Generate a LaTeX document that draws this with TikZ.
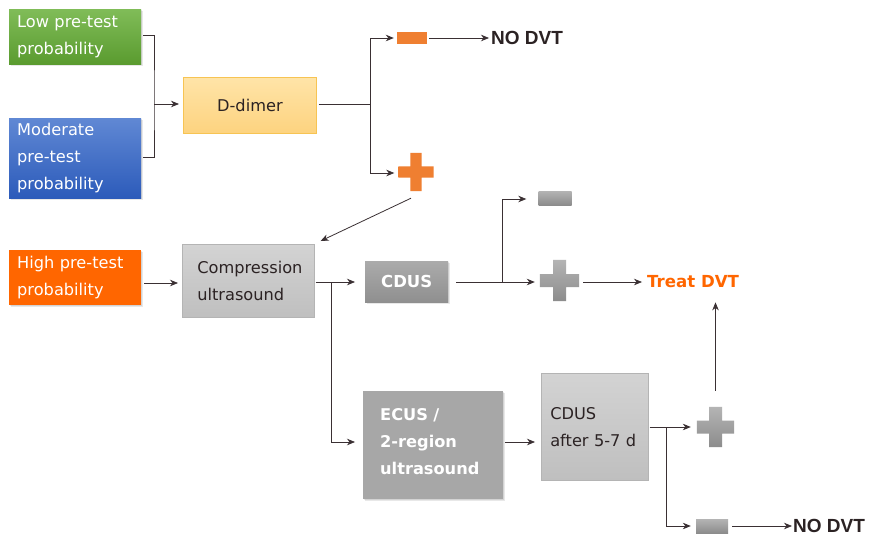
\documentclass[tikz,border=0pt]{standalone}
\usepackage{fontspec}
\setmainfont{DejaVu Sans}
\newfontfamily\arialfont{Liberation Sans}
\usetikzlibrary{arrows.meta,backgrounds,calc}

\definecolor{linec}{HTML}{3A3033}
\definecolor{txtdark}{HTML}{2B2223}
\definecolor{lowtop}{HTML}{80BC58}
\definecolor{lowbot}{HTML}{5A9B2F}
\definecolor{modtop}{HTML}{6088D4}
\definecolor{modbot}{HTML}{2C5BBA}
\definecolor{ddtop}{HTML}{FFE4A8}
\definecolor{ddbot}{HTML}{FDD37F}
\definecolor{ddborder}{HTML}{F7C453}
\definecolor{highc}{HTML}{FF6600}
\definecolor{comptop}{HTML}{D3D3D3}
\definecolor{compbot}{HTML}{BFBFBF}
\definecolor{compborder}{HTML}{B4B4B4}
\definecolor{cdustop}{HTML}{ABABAB}
\definecolor{cdusbot}{HTML}{8F8F8F}
\definecolor{ecusc}{HTML}{A7A7A7}
\definecolor{orangesign}{HTML}{EF7F31}
\definecolor{graytop}{HTML}{B4B4B4}
\definecolor{graybot}{HTML}{8C8C8C}

% cross sign drawn over a sized, invisible node
\newcommand{\mkcross}[3]{%
  \shade[#3] ([xshift=-#2]#1.north) rectangle ([xshift=#2]#1.south)
             ([yshift=#2]#1.west) rectangle ([yshift=-#2]#1.east);}
% soft shadow below and right of a box
\newcommand{\boxshadow}[1]{%
  \fill[shadowfill] ($(#1.north west)+(2pt,-2pt)$) rectangle ($(#1.south east)+(2pt,-2pt)$);
  \fill[shadowfill] ($(#1.north west)+(1pt,-1pt)$) rectangle ($(#1.south east)+(1pt,-1pt)$);}

\tikzset{
  conn/.style={draw=linec, line width=0.8pt},
  arr/.style={conn, -{Stealth[length=8pt,width=6.5pt,inset=2.5pt]}},
  boxtext/.style={anchor=north west, inner ysep=0pt, align=left,
    font=\fontsize{16.2}{27}\selectfont},
  shadowfill/.style={fill=black, opacity=0.09},
  signbox/.style={inner sep=0pt, shape=rectangle},
  orangeminus/.style={signbox, fill=orangesign},
  grayminus/.style={signbox, top color=graytop, bottom color=graybot},
  endlabel/.style={anchor=west, inner sep=0pt},
}

\begin{document}
\begin{tikzpicture}[x=1pt, y=-1pt]
\useasboundingbox (0,0) rectangle (869,535);

% entry boxes
\node[boxtext, top color=lowtop, bottom color=lowbot, text=white,
      inner xsep=8pt, text width=116pt, minimum height=55pt] (low) at (9,9)
      {Low pre-test\\probability};
\node[boxtext, top color=modtop, bottom color=modbot, text=white,
      inner xsep=8pt, text width=116pt, minimum height=80pt] (mod) at (9,118)
      {Moderate\\pre-test\\probability};
\node[boxtext, fill=highc, text=white,
      inner xsep=8pt, text width=116pt, minimum height=55pt] (high) at (9,250)
      {High pre-test\\probability};

% tests
\node[boxtext, top color=ddtop, bottom color=ddbot, draw=ddborder, line width=0.8pt,
      text=txtdark, align=center, inner xsep=0pt, text width=133pt,
      minimum height=56pt] (ddimer) at (183,77) {D-dimer};
\node[boxtext, top color=comptop, bottom color=compbot, draw=compborder, line width=0.6pt,
      text=txtdark, inner xsep=15pt, text width=102pt, minimum height=73pt]
      (comp) at (182,244) {Compression\\ultrasound};
\node[boxtext, top color=cdustop, bottom color=cdusbot, text=white,
      align=center, inner xsep=0pt, text width=83pt, minimum height=41pt,
      font=\fontsize{16.5}{20}\selectfont\bfseries] (cdus) at (365,261) {CDUS};
\node[boxtext, fill=ecusc, text=white, inner xsep=17pt, text width=106pt,
      minimum height=108pt, font=\fontsize{16.2}{27}\selectfont\bfseries]
      (ecus) at (363,391) {ECUS /\\2-region\\ultrasound\rule[-7pt]{0pt}{7pt}};
\node[boxtext, top color=comptop, bottom color=compbot, draw=compborder, line width=0.6pt,
      text=txtdark, inner xsep=9pt, text width=89pt, minimum height=107pt]
      (cdusb) at (541,373) {CDUS\\after 5-7 d};

% result signs
\node[orangeminus, minimum width=30pt, minimum height=12pt] (dminus) at (412,38) {};
\node[signbox, minimum width=35pt, minimum height=38pt] (dplus) at (416,172) {};
\mkcross{dplus}{5.7pt}{top color=orangesign, bottom color=orangesign}
\node[grayminus, minimum width=33pt, minimum height=14pt] (gminus1) at (555,198) {};
\node[signbox, minimum width=39pt, minimum height=41pt] (gplus1) at (559.5,280.5) {};
\mkcross{gplus1}{6.5pt}{top color=graytop, bottom color=graybot}
\node[signbox, minimum width=37pt, minimum height=40pt] (gplus2) at (715.5,427) {};
\mkcross{gplus2}{6.5pt}{top color=graytop, bottom color=graybot}
\node[grayminus, minimum width=32pt, minimum height=14pt] (gminus2) at (712,526) {};

% outcomes
\node[endlabel, text=txtdark, font=\arialfont\bfseries\fontsize{19}{20}\selectfont]
      (nodvt1) at (491,38) {NO DVT};
\node[endlabel, text=highc, font=\bfseries\fontsize{16.6}{20}\selectfont]
      (treat) at (647,282) {Treat DVT};
\node[endlabel, text=txtdark, font=\arialfont\bfseries\fontsize{19}{20}\selectfont]
      (nodvt2) at (793,526) {NO DVT};

% white page and box shadows, behind everything
\begin{scope}[on background layer]
  \fill[white] (0,0) rectangle (869,535);
  \boxshadow{low}
  \boxshadow{mod}
  \boxshadow{high}
  \boxshadow{cdus}
  \boxshadow{ecus}
\end{scope}

% junction points and connector levels
\coordinate (jb) at (154,104);
\coordinate (yl) at (0,35);
\coordinate (ym) at (0,157);
\coordinate (jd) at (370,104);
\coordinate (yh) at (0,283);
\coordinate (jc) at (331,282);
\coordinate (ye) at (0,442);
\coordinate (jd2) at (502,282);
\coordinate (yg) at (0,199);
\coordinate (je) at (666,427);
\coordinate (yn) at (0,526);

% pre-test probability to D-dimer
\draw[conn] ($(low.east |- yl)+(2pt,0)$) -| (jb) |- ($(mod.east |- ym)+(2pt,0)$);
\draw[arr] (jb) -- ($(ddimer.west |- jb)+(-4pt,0)$);

% D-dimer results
\draw[conn] ($(ddimer.east |- jd)+(2pt,0)$) -- (jd);
\draw[arr] (jd) |- ($(dminus.west)+(-3pt,0)$);
\draw[arr] (jd) |- ($(dplus.west)+(-4pt,-1pt)$);
\draw[arr] ($(dminus.east)+(2pt,0)$) -- ($(nodvt1.west |- dminus.east)+(-2pt,0)$);
\draw[arr] ($(dplus.south)+(-5pt,-7pt)$) -- ($(comp.north east)+(6pt,3pt)$);

% high probability to ultrasound
\draw[arr] ($(high.east |- yh)+(3pt,0)$) -- ($(comp.west |- yh)+(-4pt,0)$);
\draw[conn] ($(comp.east |- jc)+(1pt,0)$) -- (jc);
\draw[arr] (jc) -- ($(cdus.west |- jc)+(-10pt,0)$);
\draw[arr] (jc) |- ($(ecus.west |- ye)+(-8pt,0)$);

% CDUS results
\draw[conn] ($(cdus.east |- jd2)+(8pt,0)$) -- (jd2);
\draw[arr] (jd2) -- ($(gplus1.west |- jd2)+(-5pt,0)$);
\draw[arr] (jd2) |- ($(gminus1.west |- yg)+(-12pt,0)$);
\draw[arr] ($(gplus1.east |- jd2)+(4pt,0)$) -- ($(treat.west |- jd2)+(-5pt,0)$);

% serial testing
\draw[arr] ($(ecus.east |- ye)+(2pt,0)$) -- ($(cdusb.west |- ye)+(-6pt,0)$);
\draw[conn] ($(cdusb.east |- je)+(1pt,0)$) -- (je);
\draw[arr] (je) -- ($(gplus2.west |- je)+(-6pt,0)$);
\draw[arr] (je) |- ($(gminus2.west |- yn)+(-5pt,0)$);
\draw[arr] ($(gminus2.east |- yn)+(4pt,0)$) -- ($(nodvt2.west |- yn)+(-1pt,0)$);
\draw[arr] ($(gplus2.north)+(0,16pt)$) -- ($(treat.south -| gplus2.north)+(0,-14pt)$);
\end{tikzpicture}
\end{document}
